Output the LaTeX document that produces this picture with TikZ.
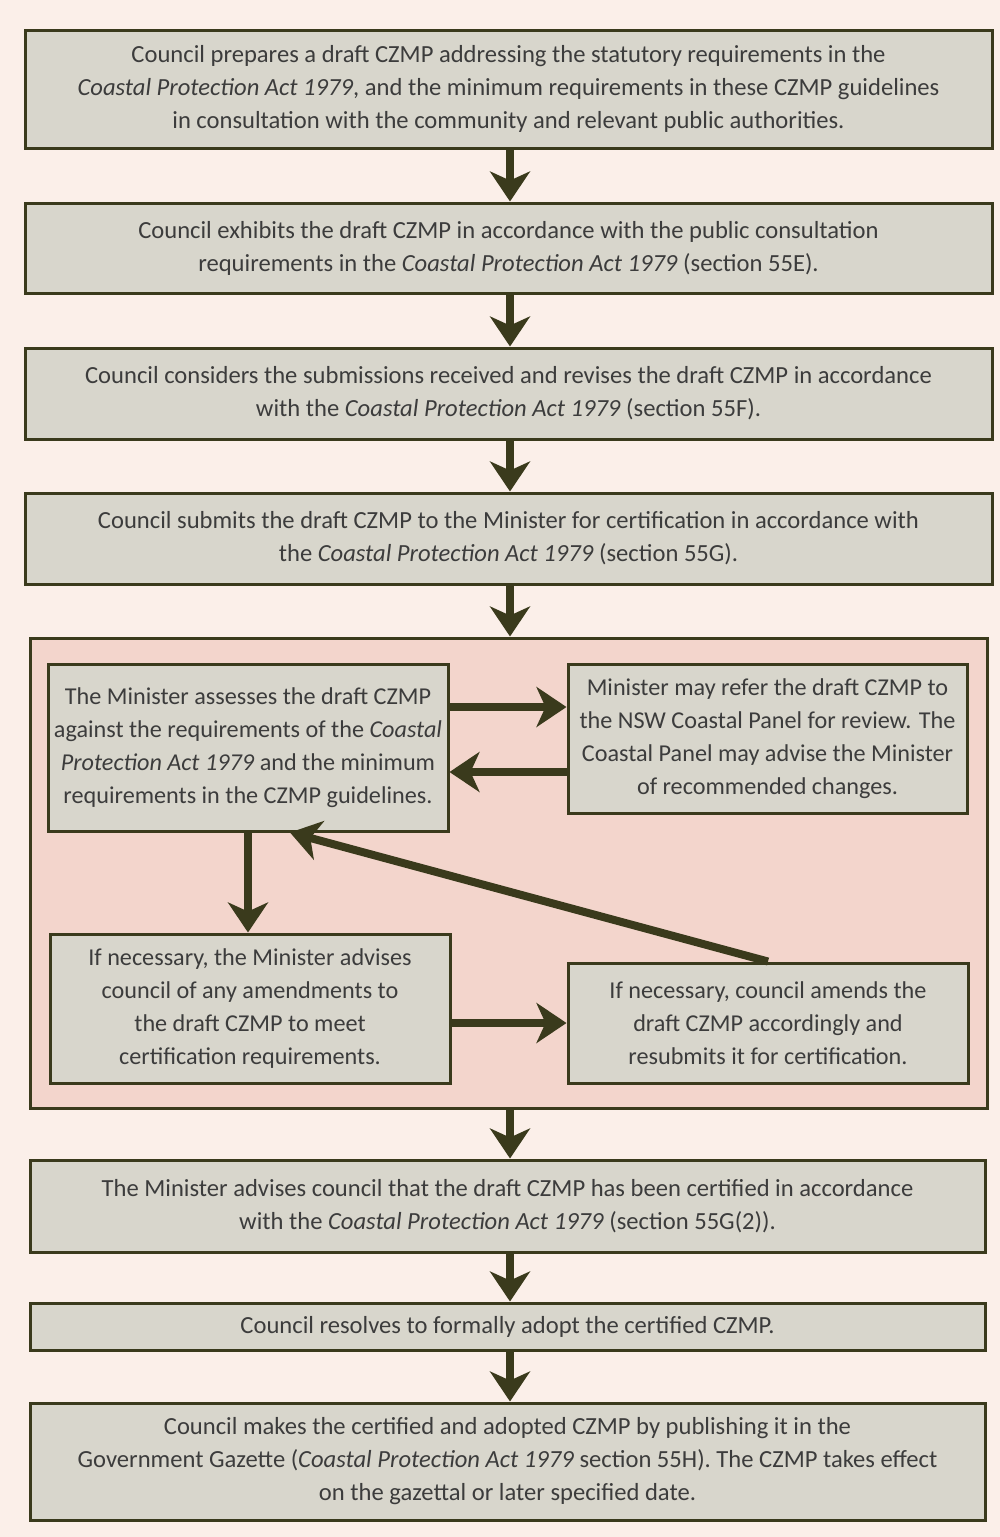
\documentclass[tikz,border=0pt]{standalone}
\usepackage{fontspec}
\setmainfont{Carlito}
\usetikzlibrary{arrows.meta}
\definecolor{bgc}{HTML}{FBEFE9}
\definecolor{boxc}{HTML}{D8D6CC}
\definecolor{grpc}{HTML}{F3D5CC}
\definecolor{edgec}{HTML}{3A3A1C}
\definecolor{txtc}{HTML}{3C3C3C}
\tikzset{
  box/.style={draw=edgec, line width=3pt, fill=boxc, inner sep=0pt, align=center,
    text=txtc, font=\fontsize{24.6}{33}\selectfont},
  ibox/.style={box, font=\fontsize{24.2}{33}\selectfont},
  flow/.style={draw=edgec, line width=8pt, -{Stealth[length=30pt,width=40pt,inset=9pt]}},
}
\begin{document}
\begin{tikzpicture}[x=1pt,y=-1pt]
\fill[bgc] (0,0) rectangle (1000,1537);
\useasboundingbox (0,0) rectangle (1000,1537);
% group background
\node[draw=edgec, line width=3pt, fill=grpc, minimum width=957pt, minimum height=470pt, inner sep=0pt] (grp) at (508.5,873) {};
% main boxes
\node[box, minimum width=967pt, minimum height=118pt] (b1) at (508.5,89)
 {Council prepares a draft CZMP addressing the statutory requirements in the\\
  \emph{Coastal Protection Act 1979}, and the minimum requirements in these CZMP guidelines\\
  in consultation with the community and relevant public authorities.};
\node[box, minimum width=967pt, minimum height=90pt] (b2) at (508.5,248)
 {Council exhibits the draft CZMP in accordance with the public consultation\\
  requirements in the \emph{Coastal Protection Act 1979} (section 55E).};
\node[box, minimum width=967pt, minimum height=91pt] (b3) at (508.5,393.5)
 {Council considers the submissions received and revises the draft CZMP in accordance\\
  with the \emph{Coastal Protection Act 1979} (section 55F).};
\node[box, minimum width=967pt, minimum height=91pt] (b4) at (508.5,538.5)
 {Council submits the draft CZMP to the Minister for certification in accordance with\\
  the \emph{Coastal Protection Act 1979} (section 55G).};
% inner boxes
\node[ibox, minimum width=400pt, minimum height=167pt] (ba) at (248,747.5)
 {The Minister assesses the draft CZMP\\
  against the requirements of the \emph{Coastal}\\
  \emph{Protection Act 1979} and the minimum\\
  requirements in the CZMP guidelines.};
\node[ibox, minimum width=399pt, minimum height=149pt] (bb) at (767.5,738.5)
 {Minister may refer the draft CZMP to\\
  the NSW Coastal Panel for review. The\\
  Coastal Panel may advise the Minister\\
  of recommended changes.};
\node[ibox, minimum width=400pt, minimum height=149pt] (bc) at (250,1008.5)
 {If necessary, the Minister advises\\
  council of any amendments to\\
  the draft CZMP to meet\\
  certification requirements.};
\node[ibox, minimum width=400pt, minimum height=120pt] (bd) at (768,1023)
 {If necessary, council amends the\\
  draft CZMP accordingly and\\
  resubmits it for certification.};
% lower boxes
\node[box, minimum width=955pt, minimum height=92pt] (b5) at (507.5,1206)
 {The Minister advises council that the draft CZMP has been certified in accordance\\
  with the \emph{Coastal Protection Act 1979} (section 55G(2)).};
\node[box, minimum width=955pt, minimum height=47pt] (b6) at (507.5,1326.5)
 {Council resolves to formally adopt the certified CZMP.};
\node[box, minimum width=955pt, minimum height=117pt] (b7) at (507.5,1461.5)
 {Council makes the certified and adopted CZMP by publishing it in the\\
  Government Gazette (\emph{Coastal Protection Act 1979} section 55H). The CZMP takes effect\\
  on the gazettal or later specified date.};
% helper coordinates
\coordinate (mx) at (510,0);
\coordinate (yab) at (0,707);
\coordinate (yba) at (0,772);
\coordinate (ycd) at (0,1023);
\coordinate (xdg) at (290,0);
% vertical flow
\draw[flow] (b1.south -| mx) -- (b2.north -| mx);
\draw[flow] (b2.south -| mx) -- (b3.north -| mx);
\draw[flow] (b3.south -| mx) -- (b4.north -| mx);
\draw[flow] (b4.south -| mx) -- (grp.north -| mx);
\draw[flow] (grp.south -| mx) -- (b5.north -| mx);
\draw[flow] (b5.south -| mx) -- (b6.north -| mx);
\draw[flow] (b6.south -| mx) -- (b7.north -| mx);
% inner flow
\draw[flow] (ba.east |- yab) -- (bb.west |- yab);
\draw[flow] (bb.west |- yba) -- (ba.east |- yba);
\draw[flow] (ba.south) -- (ba.south |- bc.north);
\draw[flow] (bc.east |- ycd) -- (bd.west |- ycd);
\draw[flow] (bd.north) -- (ba.south -| xdg);
\end{tikzpicture}
\end{document}
